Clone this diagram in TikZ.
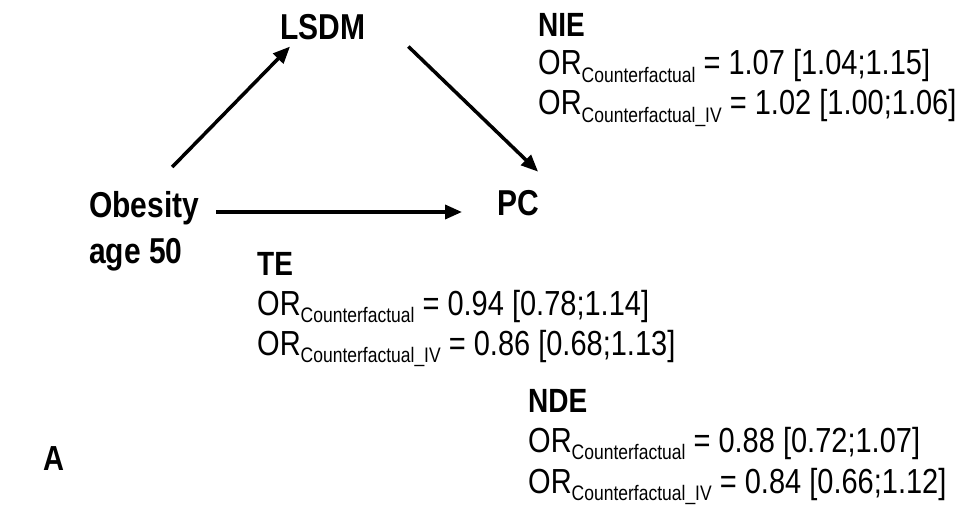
\documentclass[tikz,border=0pt]{standalone}
\usepackage{fontspec}
\setmainfont{Liberation Sans}
\usepackage{tikz}
\usetikzlibrary{positioning,arrows.meta,calc}
\newcommand{\tallt}[1]{\scalebox{1}[1.2]{#1}}
\newcommand{\orsub}[1]{OR\raisebox{-6pt}{\fontsize{17.5}{17.5}\selectfont #1}}
\tikzset{
  var/.style={inner sep=0pt,font=\fontsize{30}{46}\selectfont\bfseries,align=left},
  effect/.style={inner sep=0pt,anchor=base west,font=\fontsize{28}{28}\selectfont\bfseries},
  estimate/.style={inner sep=0pt,anchor=base west,font=\fontsize{29}{29}\selectfont},
  path/.style={line width=3.5pt,draw=black,-{Triangle[length=17pt,width=14pt]}}
}

\begin{document}
\begin{tikzpicture}[x=1pt,y=-1pt]
      \useasboundingbox (0,0) rectangle (957,505);
      \node[var,anchor=base west] (lsdm) at (280,40) {\tallt{LSDM}};
      \node[var,anchor=base west] (pc) at (497,215) {\tallt{PC}};
      \node[var,anchor=north west] (obesity) at (89,191) {\tallt{Obesity}\\\tallt{age 50}};
      \node[effect,font=\fontsize{29}{29}\selectfont\bfseries] (panel) at (43,470) {\tallt{A}};
      % natural indirect effect
      \node[effect] (nie) at (538,37) {\tallt{NIE}};
      \node[estimate] (nie1) at (538,75) {\tallt{\orsub{Counterfactual} = 1.07 [1.04;1.15]}};
      \node[estimate] (nie2) at (538,115) {\tallt{\orsub{Counterfactual\_IV} = 1.02 [1.00;1.06]}};
      % total effect
      \node[effect] (te) at (257,275) {\tallt{TE}};
      \node[estimate] (te1) at (257,315) {\tallt{\orsub{Counterfactual} = 0.94 [0.78;1.14]}};
      \node[estimate] (te2) at (257,355) {\tallt{\orsub{Counterfactual\_IV} = 0.86 [0.68;1.13]}};
      % natural direct effect
      \node[effect] (nde) at (528,412) {\tallt{NDE}};
      \node[estimate] (nde1) at (528,452) {\tallt{\orsub{Counterfactual} = 0.88 [0.72;1.07]}};
      \node[estimate] (nde2) at (528,493) {\tallt{\orsub{Counterfactual\_IV} = 0.84 [0.66;1.12]}};
      \begin{scope}
        \draw[path] ($(obesity.north)+(28pt,24pt)$) -- ($(lsdm.south west)+(10pt,-6pt)$);
        \draw[path] ($(lsdm.south east)+(43pt,-6pt)$) -- ($(pc.north east)+(-1pt,18pt)$);
        \draw[path] ($(obesity.east |- pc.base)+(17pt,3pt)$) -- ($(pc.base west)+(-35pt,3pt)$);
      \end{scope}
    \end{tikzpicture}
\end{document}
